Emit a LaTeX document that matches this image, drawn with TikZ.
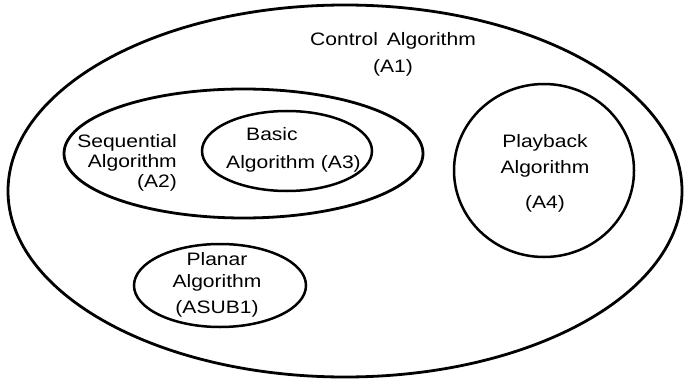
\documentclass[tikz,border=0pt]{standalone}
\usepackage{fontspec}
\setmainfont{Liberation Sans}[FakeStretch=1.17]
\usetikzlibrary{shapes.geometric}

\begin{document}
\begin{tikzpicture}[x=1pt,y=-1pt,
    algset/.style={ellipse,draw,line width=2.8pt,inner sep=0pt},
    txt/.style={font=\fontsize{18}{21}\selectfont,inner sep=0pt}]
    \useasboundingbox (0,0) rectangle (684,382);
    \node[algset,minimum width=674pt,minimum height=372pt] (a1) at (345,191) {};
    \node[algset,minimum width=359pt,minimum height=129pt] (a2) at (243.5,153.5) {};
    \node[algset,line width=2.5pt,minimum width=170pt,minimum height=80pt] (a3) at (287,151) {};
    \node[algset,line width=2.5pt,minimum width=180pt,minimum height=173pt] (a4) at (544,170.5) {};
    \node[algset,line width=2.5pt,minimum width=172pt,minimum height=83pt] (asub1) at (220,285.5) {};
    \node[txt,align=center] (t1) at (393,54) {Control\hspace{3pt} Algorithm\\[6pt](A1)};
    \node[txt,align=right,anchor=east] (t2) at (177,163) {Sequential\\[-1pt]Algorithm\\[-1pt](A2)};
    \node[txt,align=left,anchor=west] (t3) at (226,150) {\hspace*{20pt}Basic\\[7pt]Algorithm (A3)};
    \node[txt,align=center] (t4) at (545,173) {Playback\\[5pt]Algorithm\\[14pt](A4)};
    \node[txt,align=center] (t5) at (217,285) {Planar\\[1pt]Algorithm\\[5pt](ASUB1)};
\end{tikzpicture}
\end{document}
